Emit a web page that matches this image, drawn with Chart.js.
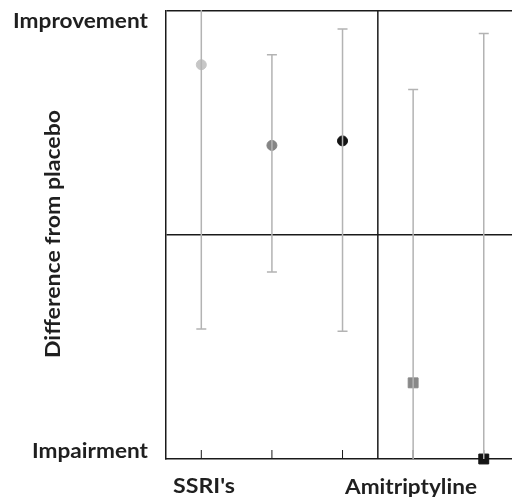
<!DOCTYPE html>
<html>
<head>
<meta charset="utf-8">
<script src="https://cdn.jsdelivr.net/npm/chart.js@4.4.1/dist/chart.umd.min.js"></script>
<style>
  html, body { margin: 0; padding: 0; background: #fff; overflow: hidden; }
  #wrap { width: 512px; height: 497px; }
</style>
</head>
<body>
<div id="wrap"><canvas id="effectChart"></canvas></div>
<script>
// one column per drug, SSRI's first, then the two amitriptyline columns
const positions = [0, 1, 2, 3, 4];
const estimates = [7.6, 4.0, 4.2, -6.6, -10];
const lowerCI = [-4.2, -1.65, -4.3, -10.5, -10.5];
const upperCI = [11, 8.05, 9.2, 6.5, 9.0];
const pointColors = ["#c6c6c6", "#858585", "#141414", "#888888", "#141414"];
const pointShapes = ["circle", "circle", "circle", "rect", "rect"];
const yTickLabels = ["Impairment", "Improvement"];
const groupLabels = ["SSRI's", "Amitriptyline"];

const FONT = "Lato, 'DejaVu Sans', sans-serif";

// draw text squeezed/stretched to the width it has in the original figure
function fitText(ctx, text, x, y, width) {
  const w = ctx.measureText(text).width;
  ctx.save();
  ctx.translate(x, y);
  ctx.scale(width / w, 1);
  ctx.fillText(text, 0, 0);
  ctx.restore();
}

const errorBars = {
  id: "errorBars",
  afterDatasetsDraw(chart) {
    const { ctx, chartArea, scales } = chart;
    ctx.save();
    ctx.beginPath();
    ctx.rect(chartArea.left, chartArea.top - 1, chartArea.right - chartArea.left, chartArea.bottom - chartArea.top + 1);
    ctx.clip();
    ctx.strokeStyle = "#b3b3b3";
    ctx.lineWidth = 1.5;
    positions.forEach((p, i) => {
      const x = scales.x.getPixelForValue(p);
      const yLo = scales.y.getPixelForValue(lowerCI[i]);
      const yHi = scales.y.getPixelForValue(upperCI[i]);
      ctx.beginPath();
      ctx.moveTo(x, yLo);
      ctx.lineTo(x, yHi);
      ctx.moveTo(x - 5, yLo);
      ctx.lineTo(x + 5, yLo);
      ctx.moveTo(x - 5, yHi);
      ctx.lineTo(x + 5, yHi);
      ctx.stroke();
    });
    ctx.restore();
  },
};

const frame = {
  id: "frame",
  beforeDatasetsDraw(chart) {
    const { ctx, chartArea, scales } = chart;
    ctx.save();
    ctx.strokeStyle = "#1a1a1a";
    ctx.lineWidth = 1.5;
    // divider between the two groups
    const xd = scales.x.getPixelForValue(2.5);
    ctx.beginPath();
    ctx.moveTo(xd, chartArea.top);
    ctx.lineTo(xd, chartArea.bottom);
    ctx.stroke();
    // small inward ticks on the bottom axis
    ctx.lineWidth = 1;
    positions.forEach((p) => {
      const x = scales.x.getPixelForValue(p);
      ctx.beginPath();
      ctx.moveTo(x, chartArea.bottom);
      ctx.lineTo(x, chartArea.bottom - 9);
      ctx.stroke();
    });
    ctx.restore();
  },
  afterDraw(chart) {
    const { ctx } = chart;
    ctx.save();
    ctx.fillStyle = "#1f1f1f";
    ctx.font = "bold 20px " + FONT;
    ctx.textBaseline = "alphabetic";
    ctx.textAlign = "left";
    fitText(ctx, yTickLabels[1], 13, 28, 135);
    fitText(ctx, yTickLabels[0], 32, 458, 116);
    fitText(ctx, groupLabels[0], 173, 493, 62);
    fitText(ctx, groupLabels[1], 345, 494, 132);
    ctx.translate(60, 358);
    ctx.rotate(-Math.PI / 2);
    fitText(ctx, "Difference from placebo", 0, 0, 248);
    ctx.restore();
  },
};

const ctx = document.getElementById("effectChart").getContext("2d");
const effectChart = new Chart(ctx, {
  type: "scatter",
  data: {
    datasets: [
      {
        data: positions.map((p, i) => ({ x: p, y: estimates[i] })),
        pointBackgroundColor: pointColors,
        pointBorderColor: pointColors,
        pointStyle: pointShapes,
        pointRadius: [5, 5, 5, 7, 7],
        pointHoverRadius: [5, 5, 5, 7, 7],
        clip: false,
      },
    ],
  },
  options: {
    responsive: true,
    maintainAspectRatio: false,
    animation: false,
    layout: {
      autoPadding: false,
      padding: { left: 166, top: 11, right: 0, bottom: 38 },
    },
    scales: {
      x: {
        type: "linear",
        min: -0.5,
        max: 4.4,
        ticks: { display: false },
        grid: { display: false },
        border: { display: true, color: "#1a1a1a", width: 1.5 },
        afterFit: (scale) => { scale.height = 0; },
      },
      y: {
        min: -10,
        max: 10,
        afterBuildTicks: (scale) => {
          scale.ticks = [{ value: -10 }, { value: 0 }, { value: 10 }];
        },
        ticks: { display: false },
        grid: {
          drawTicks: false,
          lineWidth: 1.5,
          color: (c) => (c.tick && c.tick.value !== -10 ? "#1a1a1a" : "rgba(0,0,0,0)"),
        },
        border: { display: true, color: "#1a1a1a", width: 1.5 },
        afterFit: (scale) => { scale.width = 0; },
      },
    },
    plugins: {
      legend: { display: false },
      tooltip: { enabled: false },
    },
  },
  plugins: [frame, errorBars],
});
</script>
</body>
</html>
